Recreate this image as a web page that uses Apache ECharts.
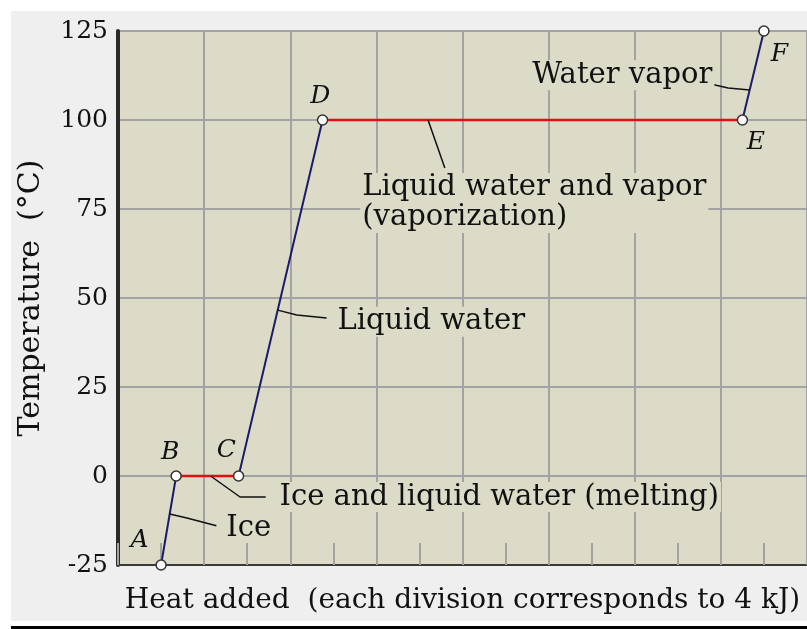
<!DOCTYPE html>
<html>
<head>
<meta charset="utf-8">
<script src="https://cdn.jsdelivr.net/npm/echarts@6/dist/echarts.min.js"></script>
<style>
  html, body { margin: 0; padding: 0; background: #fff; }
  #chart { width: 807px; height: 629px; }
</style>
</head>
<body>
<div id="chart"></div>
<script>
// heating curve of water: points A..F
var pointNames = ['A', 'B', 'C', 'D', 'E', 'F'];
var heatKJ = [2, 2.7, 5.6, 9.5, 29, 30];
var tempC = [-25, 0, 0, 100, 100, 125];

// letter positions next to the points
var letterX = [1.0, 2.42, 5.03, 9.4, 29.62, 30.72];
var letterY = [-18, 6.7, 7.3, 106.5, 93.8, 118.3];

// phase labels and their leader lines (data units)
var noteTexts = ['Ice', 'Ice and liquid water (melting)', 'Liquid water',
  'Liquid water and vapor\n(vaporization)', 'Water vapor'];
var noteX = [4.94, 7.41, 10.1, 11.25, 19.15];
var noteY = [-14.6, -5.9, 43.3, 76.7, 112.6];
var leaders = [
  [[2.4, -10.7], [3.2, -11.8], [4.57, -14.0]],
  [[4.3, 0], [5.67, -5.9], [6.86, -5.9]],
  [[7.42, 46.6], [8.3, 45.2], [9.69, 44.4]],
  [[14.4, 100], [15.18, 86.5]],
  [[27.52, 110.1], [28.34, 109], [29.34, 108.4]]
];

var yTicks = [-25, 0, 25, 50, 75, 100, 125];

var plotBg = '#dcdbc7';
var serif = 'DejaVu Serif';

var chart = echarts.init(document.getElementById('chart'), null, { renderer: 'canvas' });

var series = [];

// curve segments: red when temperature stays flat (phase change), blue otherwise
for (var i = 0; i < heatKJ.length - 1; i++) {
  var flat = tempC[i] === tempC[i + 1];
  series.push({
    type: 'line',
    data: [[heatKJ[i], tempC[i]], [heatKJ[i + 1], tempC[i + 1]]],
    symbol: 'none',
    lineStyle: { color: flat ? '#e01010' : '#1b1b6b', width: flat ? 2.5 : 2 },
    z: 3,
    silent: true
  });
}

leaders.forEach(function (pts) {
  series.push({
    type: 'line',
    data: pts,
    symbol: 'none',
    lineStyle: { color: '#111', width: 1.5 },
    z: 4,
    silent: true
  });
});

series.push({
  type: 'scatter',
  data: noteTexts.map(function (t, k) { return { value: [noteX[k], noteY[k]], name: t }; }),
  symbolSize: 0,
  z: 5,
  itemStyle: { opacity: 1 },
  label: {
    show: true,
    position: 'right',
    distance: 0,
    formatter: function (p) { return p.name; },
    fontFamily: serif,
    fontSize: 29,
    lineHeight: 30,
    color: '#111',
    opacity: 1,
    backgroundColor: plotBg,
    padding: [0, 2]
  },
  silent: true
});

series.push({
  type: 'scatter',
  data: pointNames.map(function (n, k) { return { value: [letterX[k], letterY[k]], name: n }; }),
  symbolSize: 0,
  z: 5,
  itemStyle: { opacity: 1 },
  label: {
    show: true,
    position: 'inside',
    formatter: function (p) { return p.name; },
    fontFamily: serif,
    fontStyle: 'italic',
    fontSize: 25,
    color: '#111',
    opacity: 1
  },
  silent: true
});

series.push({
  type: 'scatter',
  data: heatKJ.map(function (h, k) { return [h, tempC[k]]; }),
  symbol: 'circle',
  symbolSize: 10,
  itemStyle: { color: '#fff', borderColor: '#333', borderWidth: 1.5, opacity: 1 },
  z: 6,
  silent: true
});

var option = {
  backgroundColor: '#fff',
  animation: false,
  graphic: [
    { type: 'rect', left: 11, top: 11, shape: { width: 796, height: 610 }, style: { fill: '#efefef' }, z: -10 },
    { type: 'rect', left: 11, top: 626, shape: { width: 796, height: 3 }, style: { fill: '#000' }, z: -10 }
  ],
  grid: {
    left: 118,
    top: 31,
    width: 700,
    height: 534,
    show: true,
    backgroundColor: plotBg,
    borderColor: '#3a3a3a',
    borderWidth: 2
  },
  xAxis: {
    type: 'value',
    min: 0,
    max: 32,
    interval: 4,
    name: 'Heat added  (each division corresponds to 4 kJ)',
    nameLocation: 'middle',
    nameGap: 22,
    nameTextStyle: { fontFamily: serif, fontSize: 28, color: '#111' },
    axisLine: { show: true, onZero: false, lineStyle: { color: '#3a3a3a', width: 2 } },
    axisLabel: { show: false },
    axisTick: { show: true, inside: true, length: 22, lineStyle: { color: '#a3a3a3', width: 2 } },
    minorTick: { show: true, splitNumber: 2, length: 22, lineStyle: { color: '#a3a3a3', width: 2 } },
    splitLine: { show: true, lineStyle: { color: '#a3a3a3', width: 2 } }
  },
  yAxis: {
    type: 'value',
    min: yTicks[0],
    max: yTicks[yTicks.length - 1],
    interval: 25,
    name: 'Temperature  (°C)',
    nameLocation: 'middle',
    nameGap: 72,
    nameTextStyle: { fontFamily: serif, fontSize: 30, color: '#111' },
    axisLine: { show: true, onZero: false, lineStyle: { color: '#2a2a2a', width: 4 } },
    axisTick: { show: false },
    axisLabel: { fontFamily: serif, fontSize: 25, color: '#111', margin: 10 },
    splitLine: { show: true, lineStyle: { color: '#a3a3a3', width: 2 } }
  },
  series: series
};

chart.setOption(option);
</script>
</body>
</html>
